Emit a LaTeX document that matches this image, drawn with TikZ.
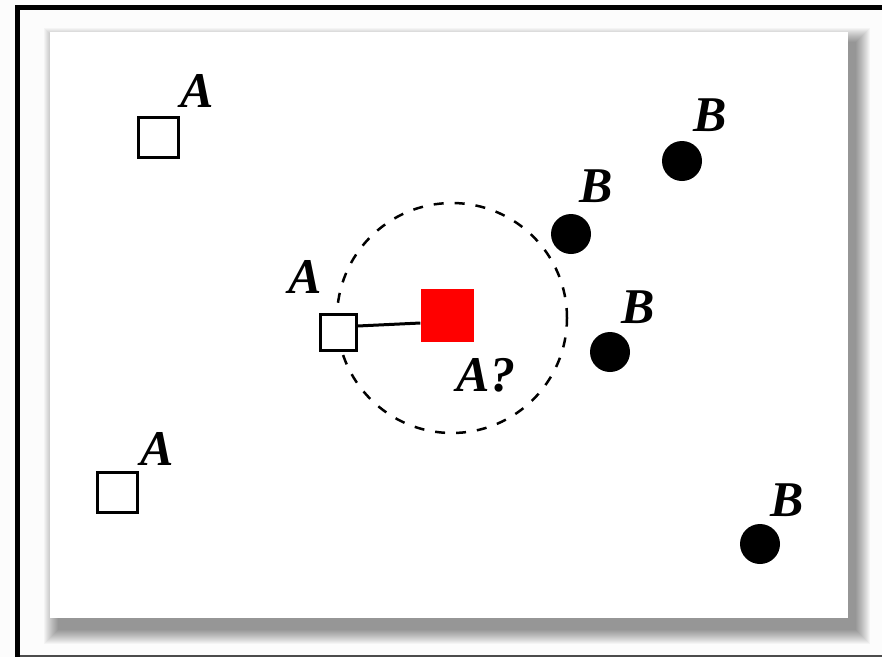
\documentclass[tikz,border=0pt]{standalone}
\usepackage{fontspec}
\setmainfont{Liberation Serif}
\begin{document}
\begin{tikzpicture}[x=1pt,y=-1pt,
  lbl/.style={inner sep=0pt, font=\fontsize{50}{50}\selectfont\bfseries\itshape},
  sqA/.style={draw=black, fill=white, line width=3pt, minimum size=#1, inner sep=0pt},
  dotB/.style={circle, fill=black, minimum size=40pt, inner sep=0pt},
  query/.style={fill=red, minimum size=53pt, inner sep=0pt},
  ring/.style={circle, draw=black, line width=2.5pt, dash pattern=on 10pt off 11pt, minimum size=230pt, inner sep=0pt}]
  \useasboundingbox (0,0) rectangle (882,657);
  % page background
  \fill[gray!2] (0,0) rectangle (882,657);
  % outer frame
  \fill[black] (15,5) rectangle (882,10);
  \fill[black] (15,5) rectangle (20,657);
  \draw[black!70, line width=2pt] (20,655.5) -- (882,655.5);
  % soft drop shadow under the panel
  \foreach \r in {0,...,14}
    \fill[black, opacity=0.032] (58-\r,42-\r) rectangle (856+\r,630+\r);
  % white panel
  \fill[white] (50,32) rectangle (848,618);

  % neighbourhood of the query point
  \node[ring] (rng) at (452,318) {};

  % class A samples
  \node[sqA=40pt] (a1) at (158,137.5) {};
  \node[sqA=40pt] (a2) at (117.5,492.5) {};
  \node[sqA=36pt] (a3) at (338,332) {};
  \node[lbl] (la1) at (197,91) {A};
  \node[lbl] (la2) at (157,449) {A};
  \node[lbl] (la3) at (305,277) {A};

  % class B samples
  \node[dotB] (b1) at (571,234) {};
  \node[dotB] (b2) at (682,161) {};
  \node[dotB] (b3) at (610,352) {};
  \node[dotB] (b4) at (760,544) {};
  \node[lbl] (lb1) at (596,186) {B};
  \node[lbl] (lb2) at (710,115) {B};
  \node[lbl] (lb3) at (638,307) {B};
  \node[lbl] (lb4) at (787,500) {B};

  % query point and its nearest neighbour
  \node[query] (q) at (447,315) {};
  \node[lbl] (lq) at (486,375) {A?};
  \draw[line width=3pt] ([yshift=6pt]a3.east) -- ([yshift=-8pt]q.west);
\end{tikzpicture}
\end{document}
